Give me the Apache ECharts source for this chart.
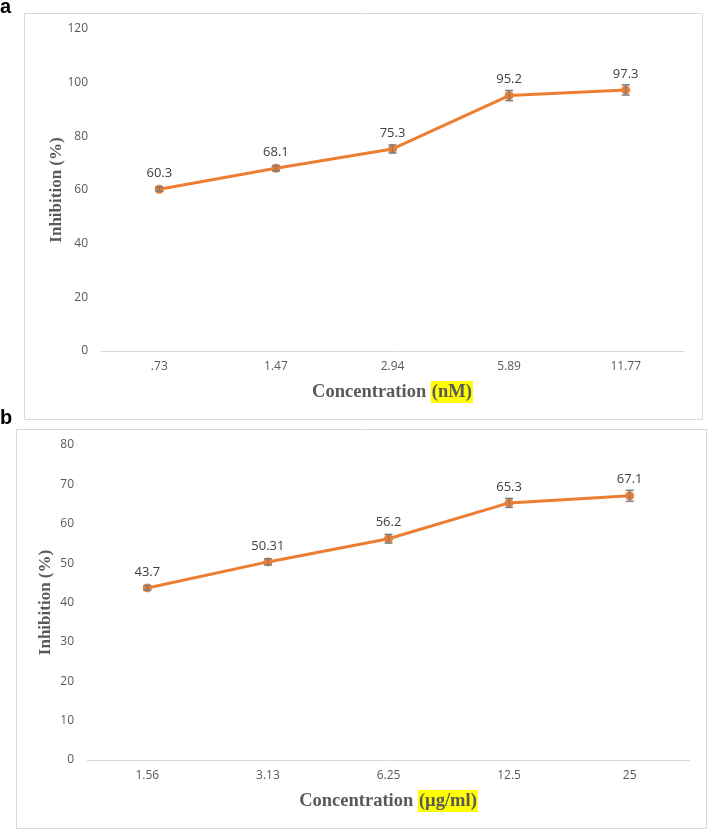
<!DOCTYPE html>
<html>
<head>
<meta charset="utf-8">
<script src="https://cdn.jsdelivr.net/npm/echarts@6/dist/echarts.min.js"></script>
<style>html,body{margin:0;padding:0;background:#fff;}#c{width:708px;height:830px;}</style>
</head>
<body>
<div id="c"></div>
<script>
// Panel a
const catsA = ['.73', '1.47', '2.94', '5.89', '11.77'];
const valsA = [60.3, 68.1, 75.3, 95.2, 97.3];
const errA = [0.8, 1.0, 1.5, 1.9, 1.9];
const ticksA = {min: 0, max: 120, interval: 20};
// Panel b
const catsB = ['1.56', '3.13', '6.25', '12.5', '25'];
const valsB = [43.7, 50.31, 56.2, 65.3, 67.1];
const labelsB = ['43.7', '50.31', '56.2', '65.3', '67.1'];
const errB = [0.6, 0.8, 1.1, 1.15, 1.4];
const ticksB = {min: 0, max: 80, interval: 10};

const ORANGE = '#ED7D31';
const GREY = '#595959';
const chart = echarts.init(document.getElementById('c'), null, {renderer: 'canvas'});

function xAxis(cats, gridIndex, unit) {
  return {
    type: 'category', data: cats, gridIndex: gridIndex,
    axisLine: {show: true, lineStyle: {color: '#d9d9d9', width: 1}},
    axisTick: {show: false},
    axisLabel: {color: GREY, fontSize: 12, fontFamily: 'Open Sans', margin: 10},
    name: '{t|Concentration }{h|' + unit + '}',
    nameLocation: 'middle', nameGap: 30, nameMoveOverlap: false,
    nameTextStyle: {
      rich: {
        t: {fontFamily: 'Liberation Serif', fontWeight: 'bold', fontSize: 18.5, color: GREY},
        h: {fontFamily: 'Liberation Serif', fontWeight: 'bold', fontSize: 18.5, color: GREY, backgroundColor: '#ffff00', padding: [2, 1, 1, 1]}
      }
    }
  };
}
function yAxis(t, gridIndex, gap) {
  return {
    type: 'value', gridIndex: gridIndex, min: t.min, max: t.max, interval: t.interval,
    axisLine: {show: false}, axisTick: {show: false}, splitLine: {show: false},
    axisLabel: {color: GREY, fontSize: 12, fontFamily: 'Open Sans', margin: 13},
    name: 'Inhibition (%)', nameLocation: 'middle', nameGap: gap, nameMoveOverlap: false,
    nameTextStyle: {fontFamily: 'Liberation Serif', fontWeight: 'bold', fontSize: 17, color: GREY}
  };
}
function lineSeries(vals, labels, idx) {
  return {
    type: 'line', xAxisIndex: idx, yAxisIndex: idx, data: vals,
    symbol: 'circle', symbolSize: 9, z: 3,
    lineStyle: {color: ORANGE, width: 3}, itemStyle: {color: ORANGE},
    label: {show: true, position: 'top', distance: 5, color: '#404040', fontSize: 13, fontFamily: 'Open Sans',
      formatter: p => labels ? labels[p.dataIndex] : String(p.value)}
  };
}
function errSeries(vals, errs, idx) {
  return {
    type: 'custom', xAxisIndex: idx, yAxisIndex: idx, z: 4,
    data: vals.map((v, i) => [i, v - errs[i], v + errs[i]]),
    renderItem: function (params, api) {
      const lo = api.coord([api.value(0), api.value(1)]);
      const hi = api.coord([api.value(0), api.value(2)]);
      const w = 4;
      const st = {stroke: '#7f7f7f', lineWidth: 1.5};
      return {type: 'group', children: [
        {type: 'line', shape: {x1: lo[0], y1: lo[1], x2: hi[0], y2: hi[1]}, style: st},
        {type: 'line', shape: {x1: lo[0] - w, y1: lo[1], x2: lo[0] + w, y2: lo[1]}, style: st},
        {type: 'line', shape: {x1: hi[0] - w, y1: hi[1], x2: hi[0] + w, y2: hi[1]}, style: st}
      ]};
    }
  };
}

chart.setOption({
  animation: false,
  backgroundColor: '#ffffff',
  grid: [
    {left: 101, right: 24, top: 29, height: 322},
    {left: 87, right: 18, top: 445, height: 315}
  ],
  xAxis: [xAxis(catsA, 0, '(nM)'), xAxis(catsB, 1, '(µg/ml)')],
  yAxis: [yAxis(ticksA, 0, 36), yAxis(ticksB, 1, 33)],
  series: [
    lineSeries(valsA, null, 0), errSeries(valsA, errA, 0),
    lineSeries(valsB, labelsB, 1), errSeries(valsB, errB, 1)
  ],
  graphic: [
    {type: 'rect', shape: {x: 24.5, y: 13.5, width: 678, height: 406}, style: {fill: 'none', stroke: '#d9d9d9', lineWidth: 1}, z: -1},
    {type: 'rect', shape: {x: 16.5, y: 429.5, width: 690, height: 399}, style: {fill: 'none', stroke: '#d9d9d9', lineWidth: 1}, z: -1},
    {type: 'text', left: 0, top: -3, style: {text: 'a', font: 'bold 20px "Liberation Sans"', fill: '#000'}},
    {type: 'text', left: 0, top: 408, style: {text: 'b', font: 'bold 20px "Liberation Sans"', fill: '#000'}}
  ]
});
</script>
</body>
</html>
